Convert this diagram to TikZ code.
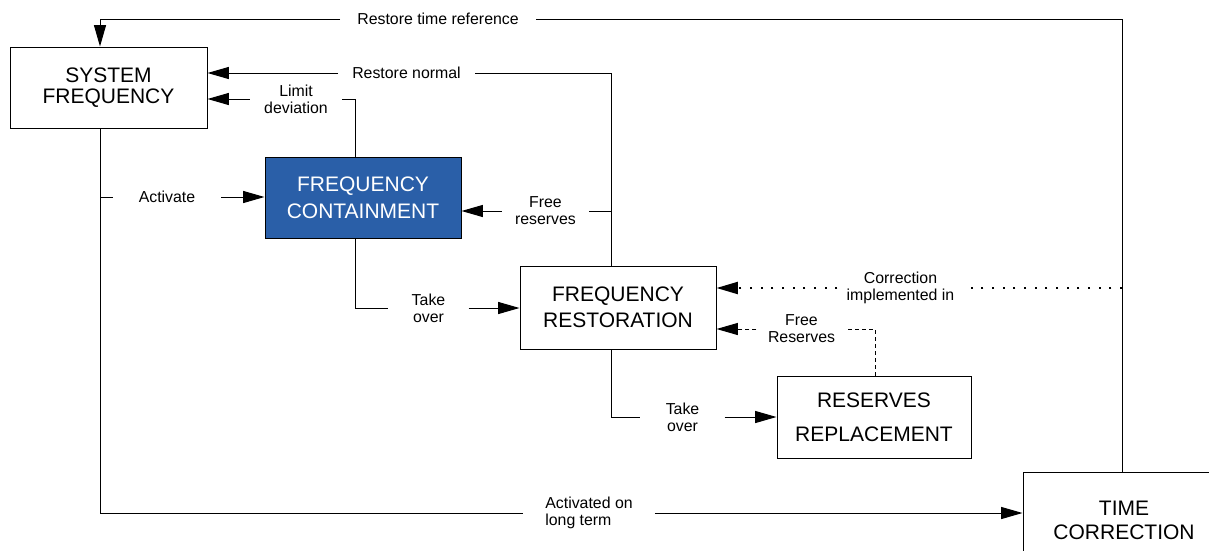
\documentclass[tikz,border=0pt]{standalone}
\usepackage{fontspec}
\setmainfont{Liberation Sans}
\usetikzlibrary{arrows.meta, positioning}

\definecolor{fcblue}{RGB}{42,95,168}
\tikzset{
  block/.style={draw, line width=0.75pt, align=center, inner sep=0pt,
    execute at begin node={\rule{0pt}{15.5pt}},
    font=\fontsize{15.75}{19.5}\selectfont},
  lbl/.style={align=center, inner ysep=0pt, font=\fontsize{11.9}{12.75}\selectfont},
  lbltwo/.style={lbl, execute at begin node={\rule{0pt}{11.5pt}}},
  link/.style={line width=0.75pt},
  dotline/.style={line width=1.5pt, dash pattern=on 1.5pt off 6.5pt},
  dashline/.style={line width=0.75pt, dash pattern=on 3pt off 2.25pt},
}

\begin{document}
\begin{tikzpicture}[x=0.75pt, y=-0.75pt, >={Triangle[length=16pt, width=9pt]}]
  \useasboundingbox (0,0) rectangle (1209,550);

  % boxes
  \node[block, minimum width=147.75pt, minimum height=60.75pt] (sf) at (108.5,87.5) {SYSTEM\\[-3.75pt]FREQUENCY};
  \node[block, fill=fcblue, text=white, minimum width=147pt, minimum height=60.75pt] (fc) at (363,197.5) {FREQUENCY\\[0.75pt]CONTAINMENT};
  \node[block, minimum width=147pt, minimum height=62.25pt] (fr) at (618,307.5) {FREQUENCY\\RESTORATION};
  \node[block, minimum width=145.5pt, minimum height=61.5pt] (rr) at (874,417) {RESERVES\\[6pt]REPLACEMENT};
  \node[block, minimum width=151.5pt, minimum height=72pt] (tc) at (1124,520) {TIME\\[-1.5pt]CORRECTION};

  % labels
  \node[lbl, inner xsep=12.75pt] (rt) at (438,19) {Restore time reference};
  \node[lbl, inner xsep=10.5pt] (rn) at (406.5,73) {Restore normal};
  \node[lbltwo, inner xsep=10.5pt] (ld) at (296,99) {Limit\\deviation};
  \node[lbl, inner xsep=19.5pt] (act) at (167,197) {Activate};
  \node[lbltwo, inner xsep=9.75pt] (frv) at (545.5,211) {Free\\reserves};
  \node[lbltwo, inner xsep=17.25pt] (to1) at (428.5,308) {Take\\over};
  \node[lbltwo, inner xsep=6.75pt] (ci) at (900.5,288) {Correction\\implemented in};
  \node[lbltwo, inner xsep=8.6pt] (frs) at (801.5,329) {Free\\Reserves};
  \node[lbltwo, inner xsep=18.75pt] (to2) at (682.5,417) {Take\\over};
  \node[lbltwo, align=left, inner xsep=16.5pt] (alt) at (589,513) {Activated on\\long term};

  % bends
  \coordinate (tl) at (100,19);
  \coordinate (tr) at (1122,19);
  \coordinate (bl) at (100,513);
  \coordinate (rn2) at (611,73);
  \coordinate (ld2) at (355,99);
  \coordinate (fs2) at (875,329);

  % connectors
  \draw[link] (tc.north -| tr) -- (tr) -- (rt.east);
  \draw[link, ->] (rt.west) -- (tl) -- (tl |- sf.north);
  \draw[link] (fr.north -| rn2) -- (rn2) -- (rn.east);
  \draw[link, ->] (rn.west) -- (rn.west -| sf.east);
  \draw[link] (frv.east) -- (frv.east -| rn2);
  \draw[link, ->] (frv.west) -- (frv.west -| fc.east);
  \draw[link] (fc.north -| ld2) -- (ld2) -- (ld.east);
  \draw[link, ->] (ld.west) -- (ld.west -| sf.east);
  \draw[link] (sf.south -| tl) -- (bl) -- (alt.west);
  \draw[link, ->] (alt.east) -- (alt.east -| tc.west);
  \draw[link] (bl |- act) -- (act.west);
  \draw[link, ->] (act.east) -- (act.east -| fc.west);
  \draw[link] (fc.south -| ld2) |- (to1.west);
  \draw[link, ->] (to1.east) -- (to1.east -| fr.west);
  \draw[link] (fr.south -| rn2) |- (to2.west);
  \draw[link, ->] (to2.east) -- (to2.east -| rr.west);
  \draw[dotline] (ci.east -| tr) -- (ci.east);
  \draw[dotline, ->] (ci.west) -- (ci.west -| fr.east);
  \draw[dashline] (rr.north -| fs2) -- (fs2) -- (frs.east);
  \draw[dashline, ->] (frs.west) -- (frs.west -| fr.east);
\end{tikzpicture}
\end{document}
